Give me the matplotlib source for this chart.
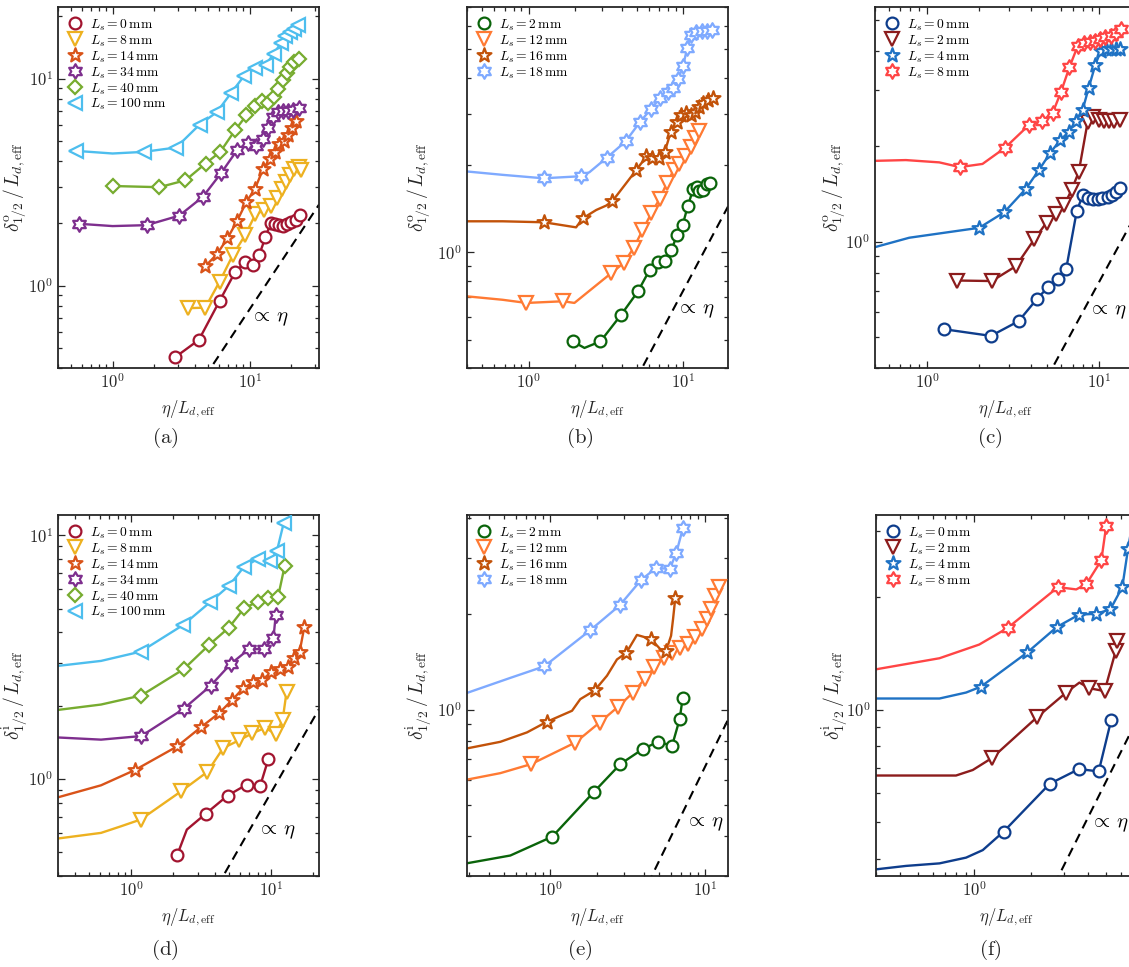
import numpy as np
import matplotlib
matplotlib.use("Agg")
import matplotlib.pyplot as plt
from matplotlib.path import Path
from matplotlib.ticker import LogLocator, NullFormatter, FuncFormatter

plt.rcParams["mathtext.fontset"] = "cm"
plt.rcParams["font.family"] = "DejaVu Serif"

# ---------------- panel (a): outer width, Ls = 0, 8, 14, 34, 40, 100 mm
A0_X = [2.86, 4.26, 6.03, 7.81, 9.29, 10.6, 11.7, 13.0, 14.2, 15.2, 16.4, 17.6, 18.8, 20.0, 21.6, 23.2]
A0_Y = [0.451, 0.547, 0.844, 1.16, 1.30, 1.26, 1.40, 1.71, 2.00, 1.98, 1.96, 1.94, 1.98, 2.02, 2.07, 2.19]
A8_X = [3.54, 4.74, 6.03, 7.55, 9.29, 11.0, 12.7, 14.2, 15.7, 17.1, 18.5, 19.8, 21.2, 22.7, 23.6]
A8_Y = [0.778, 0.783, 1.045, 1.41, 1.76, 2.21, 2.31, 2.43, 2.66, 2.92, 3.17, 3.42, 3.65, 3.75, 3.61]
A14_X = [4.74, 5.77, 6.87, 8.08, 9.46, 10.9, 12.5, 14.0, 15.3, 16.4, 17.7, 19.0, 20.5, 21.7]
A14_Y = [1.24, 1.42, 1.69, 2.05, 2.54, 2.93, 3.65, 4.08, 4.40, 4.86, 4.99, 5.37, 5.78, 6.23]
A34_X = [0.570, 1.77, 3.07, 4.56, 6.21, 8.08, 9.72, 11.1, 12.5, 13.6, 14.8, 16.1, 17.5, 19.1, 20.8, 23.0]
A34_Y = [1.99, 1.96, 2.18, 2.69, 3.51, 4.51, 4.91, 4.73, 5.10, 5.78, 6.53, 6.90, 6.95, 6.98, 7.08, 7.22]
A40_X = [1.0, 2.19, 3.40, 4.76, 6.10, 7.81, 9.46, 10.9, 12.2, 13.6, 15.0, 16.2, 17.5, 18.8, 19.8, 21.2, 23.0]
A40_Y = [3.03, 2.99, 3.23, 3.89, 4.43, 5.63, 6.65, 7.38, 7.78, 7.66, 8.16, 8.95, 9.82, 10.6, 11.4, 12.0, 12.5]
A100_X = [0.539, 1.69, 2.91, 4.31, 5.77, 7.34, 9.09, 10.9, 13.1, 15.0, 16.9, 18.2, 19.6, 21.0, 22.6]
A100_Y = [4.48, 4.43, 4.65, 6.00, 6.90, 8.56, 10.3, 11.2, 11.7, 13.2, 14.9, 16.0, 16.8, 17.3, 18.1]
# extra points of the fitted lines (no marker)
A34_LX, A34_LY = [1.0], [1.94]
A100_LX, A100_LY = [1.0], [4.35]

# ---------------- panel (b): outer width, Ls = 2, 12, 16, 18 mm
B2_X = [1.93, 2.92, 3.98, 5.10, 6.08, 6.88, 7.68, 8.40, 9.14, 9.91, 10.7, 11.6, 12.2, 12.7, 13.5, 14.3, 14.9]
B2_Y = [0.494, 0.494, 0.611, 0.734, 0.872, 0.927, 0.931, 1.02, 1.15, 1.24, 1.44, 1.65, 1.68, 1.63, 1.64, 1.72, 1.74]
B12_X = [0.97, 1.68, 3.43, 4.12, 4.78, 5.45, 6.23, 7.05, 7.87, 8.69, 9.42, 10.3, 11.2, 11.9, 12.7]
B12_Y = [0.670, 0.679, 0.849, 0.919, 1.035, 1.19, 1.365, 1.53, 1.74, 1.92, 2.01, 2.15, 2.31, 2.47, 2.62]
B16_X = [1.26, 2.24, 3.48, 4.97, 5.78, 6.32, 6.98, 7.60, 8.32, 9.06, 9.66, 10.4, 11.2, 11.9, 12.7, 13.5, 14.5, 15.5]
B16_Y = [1.27, 1.31, 1.50, 1.92, 2.14, 2.11, 2.12, 2.22, 2.60, 2.82, 2.97, 3.01, 2.97, 3.05, 3.17, 3.26, 3.35, 3.39]
B18_X = [1.25, 2.19, 3.21, 4.24, 5.28, 6.23, 7.12, 7.99, 8.61, 9.29, 10.0, 10.6, 11.2, 12.1, 13.2, 14.2, 15.3]
B18_Y = [1.80, 1.83, 2.12, 2.41, 2.82, 3.13, 3.41, 3.57, 3.69, 3.95, 4.39, 5.04, 5.62, 5.72, 5.78, 5.81, 5.82]
B2_LX, B2_LY = [2.30], [0.469]
B12_LX, B12_LY = [0.40, 0.68, 1.98], [0.706, 0.687, 0.670]
B16_LX, B16_LY = [0.40, 0.68, 2.03, 2.74, 3.18], [1.28, 1.28, 1.22, 1.40, 1.45]
B18_LX, B18_LY = [0.40, 0.68, 2.48], [1.90, 1.85, 1.89]

# ---------------- panel (c): outer width, Ls = 0, 2, 4, 8 mm
C0_X = [1.26, 2.35, 3.40, 4.35, 5.06, 5.78, 6.41, 7.39, 8.00, 8.55, 9.14, 9.78, 10.4, 11.2, 11.8, 12.5, 13.2]
C0_Y = [0.530, 0.505, 0.562, 0.661, 0.721, 0.764, 0.818, 1.25, 1.40, 1.37, 1.36, 1.36, 1.37, 1.38, 1.40, 1.44, 1.48]
C2_X = [1.49, 2.38, 3.28, 4.20, 4.94, 5.61, 6.27, 6.91, 7.59, 8.55, 9.23, 9.91, 10.6, 11.3, 12.1, 13.1]
C2_Y = [0.755, 0.752, 0.838, 1.02, 1.15, 1.22, 1.31, 1.46, 1.66, 2.39, 2.47, 2.43, 2.41, 2.41, 2.41, 2.43]
C4_X = [2.01, 2.81, 3.75, 4.48, 5.20, 5.91, 6.64, 7.33, 8.00, 8.67, 9.48, 10.2, 10.9, 11.7, 12.5, 13.1]
C4_Y = [1.107, 1.24, 1.47, 1.69, 1.91, 2.09, 2.22, 2.41, 2.61, 3.06, 3.62, 4.01, 4.04, 4.04, 4.04, 4.04]
C8_X = [1.55, 2.84, 3.89, 4.65, 5.36, 5.99, 6.70, 7.48, 8.18, 8.83, 9.48, 10.1, 10.8, 11.6, 12.4, 13.4]
C8_Y = [1.72, 1.98, 2.33, 2.40, 2.55, 2.97, 3.55, 4.14, 4.24, 4.27, 4.31, 4.37, 4.42, 4.47, 4.56, 4.69]
C4_LX, C4_LY = [0.5, 0.79], [0.962, 1.03]
C8_LX, C8_LY = [0.5, 0.755, 1.18, 2.10], [1.80, 1.81, 1.78, 1.76]

# ---------------- panel (d): inner width, Ls = 0, 8, 14, 34, 40, 100 mm
D0_X = [2.14, 3.40, 4.89, 6.69, 8.34, 9.57]
D0_Y = [0.490, 0.719, 0.855, 0.948, 0.933, 1.21]
D8_X = [1.17, 2.28, 3.51, 4.55, 5.89, 7.35, 9.06, 10.8, 12.1, 12.9]
D8_Y = [0.682, 0.891, 1.07, 1.34, 1.44, 1.54, 1.62, 1.53, 1.75, 2.28]
D14_X = [1.07, 2.13, 3.15, 4.24, 5.28, 6.33, 7.46, 8.66, 10.0, 11.6, 13.2, 14.5, 16.0, 17.3]
D14_Y = [1.09, 1.36, 1.63, 1.86, 2.11, 2.36, 2.49, 2.55, 2.74, 2.83, 2.89, 3.13, 3.33, 4.22]
D34_X = [1.18, 2.37, 3.69, 5.13, 6.95, 8.91, 10.4, 10.8]
D34_Y = [1.50, 1.94, 2.41, 2.96, 3.41, 3.41, 3.80, 4.71]
D40_X = [1.18, 2.37, 3.61, 5.00, 6.40, 8.02, 9.57, 11.2, 12.5]
D40_Y = [2.20, 2.82, 3.55, 4.18, 5.01, 5.34, 5.51, 5.56, 7.47]
D100_X = [1.17, 2.35, 3.65, 5.02, 6.40, 8.02, 9.84, 11.0, 12.3]
D100_Y = [3.33, 4.28, 5.30, 6.21, 7.42, 7.98, 7.83, 8.60, 11.2]
D0_LX, D0_LY = [2.5], [0.62]
D8_LX, D8_LY = [0.30, 0.609, 0.848], [0.570, 0.601, 0.640]
D14_LX, D14_LY = [0.30, 0.609], [0.841, 0.942]
D34_LX, D34_LY = [0.30, 0.609], [1.48, 1.45]
D40_LX, D40_LY = [0.30, 0.609], [1.92, 2.02]
D100_LX, D100_LY = [0.30, 0.609], [2.91, 3.05]

# ---------------- panel (e): inner width, Ls = 2, 12, 16, 18 mm
E2_X = [1.03, 1.90, 2.83, 3.94, 4.95, 6.10, 6.83, 7.14]
E2_Y = [0.399, 0.550, 0.675, 0.752, 0.793, 0.771, 0.935, 1.09]
E12_X = [0.754, 1.45, 2.08, 2.72, 3.40, 4.06, 4.69, 5.39, 6.10, 6.83, 7.69, 8.62, 9.51, 10.3, 10.9, 11.6, 12.3]
E12_Y = [0.675, 0.789, 0.912, 1.02, 1.13, 1.25, 1.36, 1.46, 1.51, 1.56, 1.61, 1.70, 1.79, 1.93, 2.08, 2.28, 2.43]
E16_X = [0.951, 1.93, 3.09, 4.46, 5.57, 6.40]
E16_Y = [0.917, 1.15, 1.51, 1.67, 1.53, 2.25]
E18_X = [0.914, 1.81, 2.80, 3.85, 4.83, 5.89, 6.50, 7.18]
E18_Y = [1.37, 1.78, 2.13, 2.56, 2.80, 2.77, 3.12, 3.74]
E2_LX, E2_LY = [0.29, 0.552], [0.329, 0.348]
E12_LX, E12_LY = [0.29, 0.476], [0.603, 0.632]
E16_LX = [0.29, 0.476, 0.707, 1.38, 1.56, 2.32, 2.69, 3.62, 5.13, 6.01, 6.19]
E16_LY = [0.756, 0.793, 0.849, 0.993, 1.08, 1.28, 1.44, 1.72, 1.55, 1.71, 1.93]
E18_LX, E18_LY = [0.29, 0.552], [1.13, 1.26]

# ---------------- panel (f): inner width, Ls = 0, 2, 4, 8 mm
F0_X = [1.43, 2.51, 3.59, 4.57, 5.33]
F0_Y = [0.473, 0.634, 0.694, 0.684, 0.940]
F2_X = [1.24, 2.15, 3.07, 4.06, 4.91, 5.62, 5.71]
F2_Y = [0.743, 0.954, 1.11, 1.14, 1.12, 1.43, 1.52]
F4_X = [1.08, 1.91, 2.74, 3.59, 4.44, 5.27, 6.10, 6.54]
F4_Y = [1.15, 1.42, 1.66, 1.79, 1.80, 1.85, 2.12, 2.68]
F8_X = [1.50, 2.78, 3.93, 4.72, 5.01]
F8_Y = [1.65, 2.12, 2.16, 2.50, 3.09]
F0_LX, F0_LY = [0.30, 0.433, 0.652, 0.903, 1.107], [0.375, 0.383, 0.389, 0.403, 0.422]
F2_LX, F2_LY = [0.30, 0.798, 0.98, 3.61], [0.667, 0.667, 0.69, 1.18]
F4_LX, F4_LY = [0.30, 0.652, 0.903, 6.95], [1.07, 1.07, 1.11, 3.2]
F8_LX, F8_LY = [0.30, 0.652, 1.06, 3.47], [1.28, 1.37, 1.49, 2.09]

LS_ADF = [0, 8, 14, 34, 40, 100]
LS_BE = [2, 12, 16, 18]
LS_CF = [0, 2, 4, 8]

# prefactor of the dashed "propto eta" guide, and position of its label
GUIDE_C = [0.077, 0.0738, 0.075, 0.088, 0.0665, 0.1286]
GUIDE_TXT = [(10.0, 0.69), (9.0, 0.63), (8.6, 0.605), (7.9, 0.61), (7.4, 0.44), (4.12, 0.495)]

PENTA = Path.unit_regular_star(5, 0.40)
HEXA = Path.unit_regular_star(6, 0.577)

COL_ADF = ["#A2142F", "#EDB120", "#D95319", "#7E2F8E", "#77AC30", "#4DBEEE"]
MK_ADF = ["o", "v", PENTA, HEXA, "D", "<"]
COL_BE = ["#0A640A", "#FF7A33", "#C25209", "#7FAAFF"]
MK_BE = ["o", "v", PENTA, HEXA]
COL_CF = ["#0E3D8C", "#8C1C1C", "#1F72C4", "#FF4545"]
MK_CF = ["o", "v", PENTA, HEXA]

MSIZE = {"o": 8.5, "v": 9.5, "D": 7.5, "<": 9.5}

W, H = 1129, 967


def ax_rect(left, top, width=261, height=361):
    return [left / W, 1 - (top + height) / H, width / W, height / H]


def pow_label(v, pos):
    if v <= 0:
        return ""
    e = int(round(np.log10(v)))
    if abs(np.log10(v) - e) > 1e-6:
        return ""
    return r"$10^{%d}$" % e


def draw_series(ax, mx, my, lx, ly, color, marker, label):
    px = np.concatenate([mx, lx])
    py = np.concatenate([my, ly])
    order = np.argsort(px, kind="stable")
    ax.plot(px[order], py[order], color=color, lw=1.7, zorder=2)
    ms = MSIZE.get(marker, 10.5) if isinstance(marker, str) else 10.5
    ax.plot(mx, my, ls="none", marker=marker, ms=ms, mfc="white", mec=color,
            mew=1.6, label=label, zorder=3)


def setup_axes(ax, xlim, ylim, ylab, ylab_x):
    ax.set_xscale("log")
    ax.set_yscale("log")
    ax.set_xlim(*xlim)
    ax.set_ylim(*ylim)
    for axis in (ax.xaxis, ax.yaxis):
        axis.set_major_locator(LogLocator(base=10))
        axis.set_minor_locator(LogLocator(base=10, subs=np.arange(2, 10)))
        axis.set_major_formatter(FuncFormatter(pow_label))
        axis.set_minor_formatter(NullFormatter())
    ax.tick_params(which="both", direction="in", top=True, right=True,
                   colors="#262626", labelsize=12, width=0.9)
    ax.tick_params(which="major", length=5)
    ax.tick_params(which="minor", length=3)
    for sp in ax.spines.values():
        sp.set_linewidth(1.3)
        sp.set_color("#262626")
    ax.set_xlabel(r"$\eta/L_{d,\mathrm{eff}}$", fontsize=12, color="#262626", labelpad=5)
    ax.set_ylabel(ylab, fontsize=14, color="#262626")
    ax.yaxis.set_label_coords(ylab_x, 0.5)


def draw_panel(ax, series, ls_list, colors, markers, k, xlim, ylim, ylab, ylab_x):
    setup_axes(ax, xlim, ylim, ylab, ylab_x)
    for (mx, my, lx, ly), ls, col, mk in zip(series, ls_list, colors, markers):
        draw_series(ax, np.array(mx), np.array(my), np.array(lx), np.array(ly),
                    col, mk, r"$L_s = %d\,\mathrm{mm}$" % ls)
    gx = np.array([xlim[0], xlim[1]])
    ax.plot(gx, GUIDE_C[k] * gx, color="black", ls=(0, (4.5, 3)), lw=1.5, zorder=1)
    tx, ty = GUIDE_TXT[k]
    ax.text(tx, ty, r"$\propto\,\eta$", fontsize=15, ha="left", va="center")
    ax.legend(loc="upper left", frameon=False, fontsize=9.8, handlelength=1.0,
              handletextpad=0.6, labelspacing=0.05, borderaxespad=0.45,
              borderpad=0.3)


fig = plt.figure(figsize=(W / 100, H / 100), dpi=100)

ax_a = fig.add_axes(ax_rect(58, 7))
ax_b = fig.add_axes(ax_rect(467, 7))
ax_c = fig.add_axes(ax_rect(875, 7))
ax_d = fig.add_axes(ax_rect(58, 515))
ax_e = fig.add_axes(ax_rect(467, 515))
ax_f = fig.add_axes(ax_rect(876, 515))

lab_o = r"$\delta^{\mathrm{o}}_{1/2}\,/\,L_{d,\mathrm{eff}}$"
lab_i = r"$\delta^{\mathrm{i}}_{1/2}\,/\,L_{d,\mathrm{eff}}$"

draw_panel(ax_a, [(A0_X, A0_Y, [], []), (A8_X, A8_Y, [], []), (A14_X, A14_Y, [], []),
                  (A34_X, A34_Y, A34_LX, A34_LY), (A40_X, A40_Y, [], []),
                  (A100_X, A100_Y, A100_LX, A100_LY)],
           LS_ADF, COL_ADF, MK_ADF, 0, (0.4, 32), (0.4, 22.2), lab_o, -0.11)
draw_panel(ax_b, [(B2_X, B2_Y, B2_LX, B2_LY), (B12_X, B12_Y, B12_LX, B12_LY),
                  (B16_X, B16_Y, B16_LX, B16_LY), (B18_X, B18_Y, B18_LX, B18_LY)],
           LS_BE, COL_BE, MK_BE, 1, (0.4, 19.5), (0.4, 7.0), lab_o, -0.13)
draw_panel(ax_c, [(C0_X, C0_Y, [], []), (C2_X, C2_Y, [], []),
                  (C4_X, C4_Y, C4_LX, C4_LY), (C8_X, C8_Y, C8_LX, C8_LY)],
           LS_CF, COL_CF, MK_CF, 2, (0.5, 16.3), (0.4, 5.5), lab_o, -0.105)
draw_panel(ax_d, [(D0_X, D0_Y, D0_LX, D0_LY), (D8_X, D8_Y, D8_LX, D8_LY),
                  (D14_X, D14_Y, D14_LX, D14_LY), (D34_X, D34_Y, D34_LX, D34_LY),
                  (D40_X, D40_Y, D40_LX, D40_LY), (D100_X, D100_Y, D100_LX, D100_LY)],
           LS_ADF, COL_ADF, MK_ADF, 3, (0.3, 22), (0.4, 12.1), lab_i, -0.11)
draw_panel(ax_e, [(E2_X, E2_Y, E2_LX, E2_LY), (E12_X, E12_Y, E12_LX, E12_LY),
                  (E16_X, E16_Y, E16_LX, E16_LY), (E18_X, E18_Y, E18_LX, E18_LY)],
           LS_BE, COL_BE, MK_BE, 4, (0.29, 14), (0.3, 4.1), lab_i, -0.13)
draw_panel(ax_f, [(F0_X, F0_Y, F0_LX, F0_LY), (F2_X, F2_Y, F2_LX, F2_LY),
                  (F4_X, F4_Y, F4_LX, F4_LY), (F8_X, F8_Y, F8_LX, F8_LY)],
           LS_CF, COL_CF, MK_CF, 5, (0.3, 7.3), (0.36, 3.3), lab_i, -0.105)

for letter, (px, py) in zip("abcdef", [(165, 438), (580, 438), (990, 438),
                                       (165, 950), (580, 950), (990, 950)]):
    fig.text(px / W, 1 - py / H, r"$\mathrm{(%s)}$" % letter, fontsize=15,
             ha="center", va="center", color="#262626")

fig.savefig("out.png", dpi=100)
